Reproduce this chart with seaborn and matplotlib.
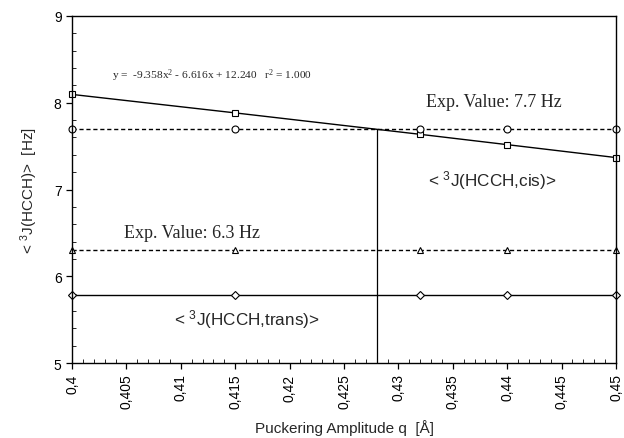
import matplotlib
matplotlib.use("Agg")
import matplotlib.pyplot as plt
from matplotlib.ticker import MultipleLocator, FuncFormatter
import seaborn as sns
import pandas as pd

# data
q = [0.400, 0.415, 0.432, 0.440, 0.450]
j_cis = [8.096, 7.883, 7.636, 7.517, 7.368]
exp_cis = [7.7, 7.7, 7.7, 7.7, 7.7]
exp_trans = [6.3, 6.3, 6.3, 6.3, 6.3]
j_trans = [5.78, 5.78, 5.78, 5.78, 5.78]
cross_q = 0.428
cross_j = 7.7

df = pd.DataFrame({"q": q, "cis": j_cis, "exp_cis": exp_cis,
                   "exp_trans": exp_trans, "trans": j_trans})

sns.set_style("ticks")
plt.rcParams["font.family"] = ["Liberation Sans", "DejaVu Sans"]

fig = plt.figure(figsize=(6.24, 4.39), dpi=100)
ax = fig.add_axes([0.1154, 0.1708, 0.8718, 0.7905])

mk = dict(color="black", markerfacecolor="white", markeredgecolor="black",
          markersize=5, markeredgewidth=0.8, linewidth=1.0)
sns.lineplot(data=df, x="q", y="cis", marker="s", ax=ax, **mk)
sns.lineplot(data=df, x="q", y="exp_cis", marker="o", linestyle=(0, (3, 2)), ax=ax, **mk)
sns.lineplot(data=df, x="q", y="exp_trans", marker="^", linestyle=(0, (3, 2)), ax=ax, **mk)
sns.lineplot(data=df, x="q", y="trans", marker="D", ax=ax,
             **{**mk, "markersize": 4})
ax.vlines(cross_q, 5, cross_j, color="black", linewidth=0.9)

for l in ax.lines:
    l.set_clip_on(False)

ax.set_xlim(0.4, 0.45)
ax.set_ylim(5, 9)
ax.xaxis.set_major_locator(MultipleLocator(0.005))
ax.xaxis.set_minor_locator(MultipleLocator(0.001))
ax.yaxis.set_major_locator(MultipleLocator(1))
ax.yaxis.set_minor_locator(MultipleLocator(0.2))
ax.xaxis.set_major_formatter(FuncFormatter(lambda v, p: ("%g" % round(v, 4)).replace(".", ",")))
ax.tick_params(axis="both", which="major", direction="out", length=4, width=0.9,
               labelsize=10, colors="black")
ax.tick_params(axis="both", which="minor", direction="in", length=3, width=0.7)
ax.tick_params(axis="x", which="major", labelrotation=90)
for s in ax.spines.values():
    s.set_linewidth(1.0)
    s.set_color("black")

ax.set_xlabel("Puckering Amplitude q  [Å]", fontsize=11, labelpad=8)
ax.set_ylabel("< $\\mathregular{^3}$J(HCCH)>  [Hz]", fontsize=11, labelpad=10)

serif = ["Liberation Serif", "DejaVu Serif"]
ax.text(0.4037, 8.32, "y =  -9.358x$\\mathregular{^2}$ - 6.616x + 12.240   r$\\mathregular{^2}$ = 1.000",
        family=serif, fontsize=8.2, va="center")
ax.text(0.4325, 8.02, "Exp. Value: 7.7 Hz", family=serif, fontsize=13, va="center")
ax.text(0.4048, 6.51, "Exp. Value: 6.3 Hz", family=serif, fontsize=13, va="center")
ax.text(0.4327, 7.12, "< $\\mathregular{^3}$J(HCCH,cis)>", fontsize=12.3, va="center")
ax.text(0.4094, 5.51, "< $\\mathregular{^3}$J(HCCH,trans)>", fontsize=12.3, va="center")

fig.savefig("out.png", dpi=100)
